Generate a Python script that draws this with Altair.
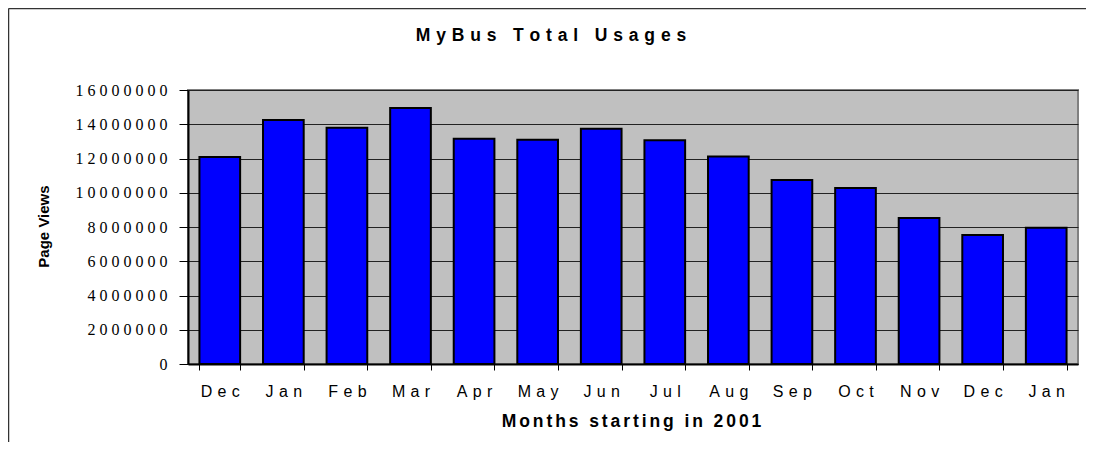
import altair as alt
import pandas as pd

# ---- data ----
months = ["Dec", "Jan", "Feb", "Mar", "Apr", "May", "Jun",
          "Jul", "Aug", "Sep", "Oct", "Nov", "Dec", "Jan"]
years = [2000, 2001, 2001, 2001, 2001, 2001, 2001,
         2001, 2001, 2001, 2001, 2001, 2001, 2002]
page_views = [12090000, 14250000, 13800000, 14950000, 13160000, 13100000, 13740000,
              13060000, 12110000, 10740000, 10280000, 8530000, 7530000, 7960000]
y_ticks = [0, 2000000, 4000000, 6000000, 8000000,
           10000000, 12000000, 14000000, 16000000]

chart_title = "MyBus Total Usages"
x_title = "Months starting in 2001"
y_title = "Page Views"


def spread(text, gap):
    return gap.join(text)


periods = [f"{m} {y}" for m, y in zip(months, years)]
df = pd.DataFrame({"period": periods, "month": months, "views": page_views})

SANS = "Liberation Sans"
SERIF = "Liberation Serif"
LBL_GAP = "\u2004"
NUM_GAP = "\u2005"

x_axis = alt.Axis(
    title=spread(x_title, "\u2006"),
    titleFont=SANS, titleFontSize=17.5, titleFontWeight="bold", titleColor="#000000",
    titleX=443, titleY=62, titleAlign="center", titleBaseline="alphabetic", titleAngle=0,
    labelExpr=f"join(split(slice(datum.label, 0, 3), ''), '{LBL_GAP}')",
    labelFont=SANS, labelFontSize=16, labelColor="#000000", labelAngle=0,
    labelBaseline="alphabetic", labelPadding=26,
    tickBand="extent", tickSize=6, tickColor="#000000", tickWidth=1,
    domainColor="#000000", domainWidth=2, grid=False,
)

y_axis = alt.Axis(
    title=y_title, titleFont=SANS, titleFontSize=15, titleFontWeight="bold",
    titleColor="#000000", titleX=-145, titleY=136, titleAngle=270,
    titleAlign="center", titleBaseline="middle",
    values=y_ticks,
    labelExpr=f"join(split(format(datum.value, 'd'), ''), '{NUM_GAP}')",
    labelFont=SERIF, labelFontSize=16, labelColor="#000000", labelPadding=12,
    labelBaseline="middle",
    tickSize=9, tickColor="#000000", tickWidth=1,
    domainColor="#000000", domainWidth=2,
    grid=True, gridColor="#222222", gridWidth=1,
)

bars = alt.Chart(df).mark_bar(
    color="#0000FF", stroke="#000000", strokeWidth=2
).encode(
    x=alt.X("period:N", sort=periods,
            scale=alt.Scale(paddingInner=0.36, paddingOuter=0.18), axis=x_axis),
    y=alt.Y("views:Q", scale=alt.Scale(domain=[0, 16000000], nice=False), axis=y_axis),
)

frame_src = pd.DataFrame({"f": [0]})
frame_left = alt.Chart(frame_src).mark_rule(color="#333333", strokeWidth=1.5).encode(
    x=alt.value(-179.5), y=alt.value(-81.5), y2=alt.value(400)
)
frame_top = alt.Chart(frame_src).mark_rule(color="#333333", strokeWidth=1.5).encode(
    x=alt.value(-179.5), x2=alt.value(950), y=alt.value(-81.5)
)

chart = alt.layer(frame_left, frame_top, bars).properties(
    width=890,
    height=274,
    padding={"left": 180, "top": 82, "right": 8, "bottom": 78},
    autosize=alt.AutoSizeParams(type="none"),
    background="white",
    title=alt.TitleParams(
        text=spread(chart_title, "\u2004"),
        font=SANS, fontSize=17.5, fontWeight="bold", color="#000000",
        anchor="middle", dx=-82, offset=0, dy=51, baseline="alphabetic",
    ),
).configure_view(fill="#C0C0C0", stroke="#808080", strokeWidth=2)

chart.save("out.html", embed_options={"renderer": "svg", "actions": False})
